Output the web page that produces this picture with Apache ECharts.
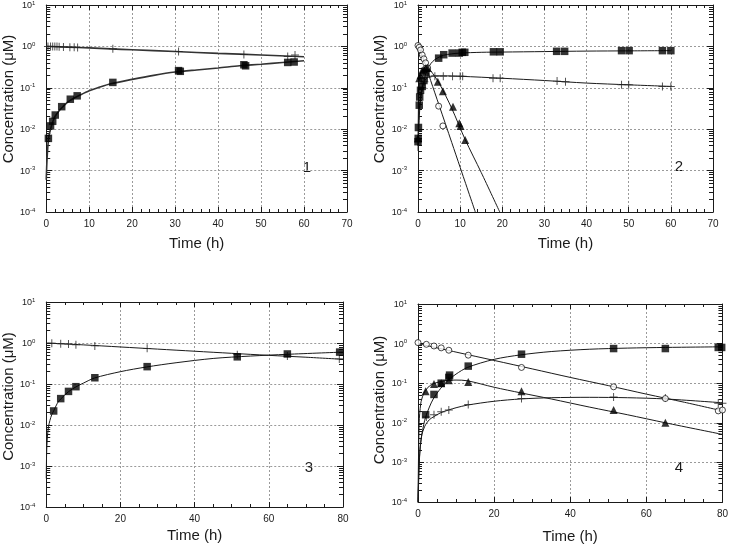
<!DOCTYPE html>
<html><head><meta charset="utf-8">
<script src="https://cdn.jsdelivr.net/npm/echarts@6/dist/echarts.min.js"></script>
<style>html,body{margin:0;padding:0;background:#fff}#c{width:731px;height:548px}</style>
</head><body><div id="c"></div>
<script>
// ---------------- Panel 1 ----------------
const p1SquareT = [0.5, 1, 1.5, 2.1, 3.6, 5.6, 7.2, 15.5, 30.8, 31.2, 46, 46.4, 56.2, 57.7];
const p1Square  = [0.006, 0.012, 0.0155, 0.022, 0.035, 0.053, 0.064, 0.135, 0.26, 0.25, 0.36, 0.34, 0.41, 0.42];
const p1CrossT  = [0.4, 1, 1.5, 2, 2.5, 3, 4, 5.5, 6.5, 7.3, 15.5, 30.8, 46, 56.2, 57.9];
const p1Cross   = [1.0, 1.0, 1.0, 0.99, 0.99, 0.98, 0.97, 0.96, 0.95, 0.94, 0.88, 0.75, 0.64, 0.57, 0.62];
const p1FitSqT  = [0, 0.1, 0.3, 0.6, 1, 1.5, 2, 3, 4, 5, 6, 8, 10, 12, 15, 20, 25, 30, 35, 40, 45, 50, 55, 60];
const p1FitSq   = [0.0006, 0.0012, 0.003, 0.0065, 0.010, 0.015, 0.02, 0.028, 0.036, 0.045, 0.053, 0.068, 0.085, 0.1, 0.125, 0.16, 0.2, 0.24, 0.27, 0.3, 0.34, 0.37, 0.41, 0.45];
const p1FitCrT  = [0, 5, 10, 15, 20, 30, 40, 50, 60];
const p1FitCr   = [1.0, 0.96, 0.92, 0.87, 0.83, 0.75, 0.68, 0.62, 0.56];

// ---------------- Panel 2 ----------------
const p2SquareT = [0, 0.05, 0.1, 0.3, 0.4, 0.6, 1.0, 1.4, 1.9, 4.9, 6.1, 8.1, 9.8, 10.5, 11.1, 17.9, 19.5, 32.9, 34.8, 48.3, 50.1, 58, 60];
const p2Square  = [0.005, 0.006, 0.011, 0.038, 0.06, 0.087, 0.108, 0.15, 0.23, 0.52, 0.63, 0.69, 0.69, 0.72, 0.72, 0.74, 0.74, 0.76, 0.76, 0.79, 0.79, 0.79, 0.79];
const p2CircleT = [0, 0.3, 0.6, 1.0, 1.4, 1.8, 2.3, 4.9, 5.9];
const p2Circle  = [1.05, 0.95, 0.82, 0.62, 0.5, 0.4, 0.3, 0.036, 0.012];
const p2TriT    = [0, 0.3, 0.6, 1.0, 1.4, 1.9, 2.3, 4.7, 5.9, 8.3, 9.8, 10.1, 11.2];
const p2Tri     = [0.006, 0.17, 0.2, 0.26, 0.28, 0.3, 0.3, 0.14, 0.083, 0.035, 0.014, 0.012, 0.0055];
const p2CrossT  = [1.0, 1.5, 2.2, 4, 6, 8.2, 10, 10.6, 17.8, 19.5, 33, 35, 48.3, 50, 58, 60];
const p2Cross   = [0.1, 0.14, 0.18, 0.19, 0.19, 0.19, 0.19, 0.19, 0.17, 0.17, 0.145, 0.14, 0.118, 0.118, 0.108, 0.108];
const p2FitSqT  = [0, 0.2, 0.5, 1, 1.5, 2, 3, 4, 5, 6, 8, 10, 15, 20, 30, 40, 50, 60];
const p2FitSq   = [0.004, 0.012, 0.04, 0.1, 0.16, 0.24, 0.38, 0.48, 0.55, 0.61, 0.66, 0.69, 0.72, 0.73, 0.75, 0.77, 0.78, 0.79];
const p2FitCiT  = [0, 0.5, 1, 3, 5, 8, 10, 13.6];
const p2FitCi   = [1.0, 0.78, 0.6, 0.15, 0.038, 0.0048, 0.0012, 0.0001];
const p2FitTrT  = [0, 0.2, 0.5, 1, 1.5, 2, 2.5, 3, 5, 8, 11.2, 15, 19.4];
const p2FitTr   = [0.004, 0.1, 0.2, 0.27, 0.3, 0.31, 0.3, 0.26, 0.13, 0.032, 0.0056, 0.0009, 0.0001];
const p2FitCrT  = [0, 0.3, 0.7, 1, 1.5, 2, 3, 4, 6, 10, 20, 30, 40, 50, 60];
const p2FitCr   = [0.003, 0.03, 0.07, 0.1, 0.14, 0.17, 0.19, 0.195, 0.195, 0.19, 0.17, 0.15, 0.13, 0.118, 0.108];

// ---------------- Panel 3 ----------------
const p3SquareT = [2.0, 3.9, 6.0, 8.0, 13.1, 27.2, 51.5, 65, 79.1];
const p3Square  = [0.022, 0.044, 0.066, 0.086, 0.142, 0.265, 0.46, 0.54, 0.6];
const p3CrossT  = [1.5, 3.9, 6, 8, 13.1, 27.2, 51.5, 65, 79];
const p3Cross   = [0.99, 0.96, 0.94, 0.91, 0.85, 0.74, 0.52, 0.48, 0.41];
const p3FitSqT  = [0, 0.1, 0.3, 0.6, 1, 1.5, 2, 3, 4, 6, 8, 10, 13, 20, 27, 35, 45, 55, 65, 80];
const p3FitSq   = [0.0005, 0.002, 0.005, 0.009, 0.013, 0.018, 0.022, 0.034, 0.044, 0.065, 0.085, 0.105, 0.14, 0.2, 0.26, 0.33, 0.42, 0.48, 0.53, 0.6];
const p3FitCrT  = [0, 10, 20, 30, 40, 50, 60, 70, 80];
const p3FitCr   = [1.0, 0.9, 0.8, 0.71, 0.63, 0.56, 0.5, 0.45, 0.4];

// ---------------- Panel 4 ----------------
const p4CircleT = [0, 2.2, 4.2, 6.1, 8.1, 13.2, 27.2, 51.4, 65, 78.9, 80];
const p4Circle  = [1.06, 0.96, 0.87, 0.78, 0.68, 0.51, 0.25, 0.081, 0.041, 0.020, 0.021];
const p4SquareT = [2.0, 4.2, 6.1, 8.1, 8.3, 13.2, 27.2, 51.4, 65, 78.9, 79.8];
const p4Square  = [0.016, 0.052, 0.1, 0.14, 0.16, 0.27, 0.54, 0.75, 0.75, 0.8, 0.8];
const p4TriT    = [2.0, 4.2, 6.1, 8.1, 13.2, 27.2, 51.4, 65];
const p4Tri     = [0.063, 0.095, 0.1, 0.118, 0.107, 0.063, 0.021, 0.01];
const p4CrossT  = [2.2, 4.2, 6.1, 8.1, 13.2, 27.2, 51.4, 65, 78.9, 80];
const p4Cross   = [0.014, 0.016, 0.019, 0.021, 0.029, 0.041, 0.045, 0.042, 0.031, 0.031];
const p4FitCiT  = [0, 10, 20, 30, 40, 50, 60, 70, 80];
const p4FitCi   = [1.0, 0.61, 0.376, 0.23, 0.14, 0.087, 0.053, 0.033, 0.02];
const p4FitSqT  = [0, 0.5, 1, 1.5, 2, 3, 4, 6, 8, 10, 13, 20, 27, 35, 45, 55, 65, 80];
const p4FitSq   = [0.0001, 0.002, 0.005, 0.009, 0.014, 0.025, 0.04, 0.075, 0.12, 0.17, 0.25, 0.4, 0.52, 0.63, 0.72, 0.77, 0.8, 0.83];
const p4FitTrT  = [0, 0.3, 0.7, 1, 1.5, 2, 3, 4, 6, 8, 10, 13, 20, 27, 35, 45, 55, 65, 80];
const p4FitTr   = [0.0001, 0.01, 0.03, 0.04, 0.055, 0.066, 0.085, 0.097, 0.11, 0.118, 0.12, 0.115, 0.079, 0.057, 0.04, 0.025, 0.016, 0.01, 0.0051];
const p4FitCrT  = [0, 0.3, 0.7, 1, 1.5, 2, 3, 4, 6, 8, 10, 13, 20, 27, 35, 45, 55, 65, 80];
const p4FitCr   = [0.0001, 0.001, 0.003, 0.005, 0.007, 0.009, 0.012, 0.014, 0.018, 0.021, 0.024, 0.028, 0.035, 0.04, 0.043, 0.044, 0.043, 0.04, 0.032];

// Axis settings
const xMaxes = [70, 70, 80, 80];
const xIntervals = [10, 10, 20, 20];
const xMinorSplits = [5, 5, 4, 4];
const panelLabels = ['1', '2', '3', '4'];
const xTitle = 'Time (h)';
const yTitle = 'Concentration (\u03bcM)';

// ---------------- Build ----------------
const FONT = 'Liberation Sans, Arial, Helvetica, sans-serif';
const INK = '#1a1a1a';
const pairs = (t, v) => t.map((x, i) => [x, v[i]]);

// minor log tick positions (2..9 × 10^e), as exponents for a helper linear axis spanning -4..1
const minorExp = [];
for (let e = -4; e <= 0; e++) for (let m = 2; m <= 9; m++) minorExp.push(e + Math.log10(m));

const grids = [
  {left: 45, top: 5, width: 302, height: 207},
  {left: 418, top: 5, width: 295, height: 207},
  {left: 44, top: 302, width: 299, height: 205},
  {left: 418, top: 304, width: 308, height: 198}
];
const xNameGaps = [24, 24, 21, 27];
const yNameGaps = [27, 26, 28, 27];
const yNamePad = [19, 19, 16, 6];

const xAxes = [], yAxes = [];
const lineAx = {show: true, onZero: false, lineStyle: {color: INK, width: 1}};
grids.forEach((g, i) => {
  const common = {type: 'value', gridIndex: i, min: 0, max: xMaxes[i], interval: xIntervals[i],
    axisLine: lineAx,
    axisTick: {show: true, inside: true, length: 5, lineStyle: {color: INK}},
    minorTick: {show: true, splitNumber: xMinorSplits[i], length: 3, lineStyle: {color: INK}}};
  xAxes.push(Object.assign({}, common, {position: 'bottom',
    axisLabel: {fontSize: 10, color: INK, margin: 7, fontFamily: FONT},
    splitLine: {show: true, lineStyle: {color: '#9a9a9a', type: [2, 2], width: 1}},
    name: xTitle, nameLocation: 'middle', nameGap: xNameGaps[i],
    nameTextStyle: {fontSize: 15, color: INK, fontFamily: FONT}}));
  xAxes.push(Object.assign({}, common, {position: 'top', axisLabel: {show: false}, splitLine: {show: false}}));

  const ylog = {type: 'log', logBase: 10, gridIndex: i, min: 0.0001, max: 10};
  const yexp = {type: 'value', gridIndex: i, min: -4, max: 1, axisLine: {show: false, onZero: false},
    axisLabel: {show: false}, splitLine: {show: false}};
  yAxes.push(Object.assign({}, ylog, {position: 'left',
    axisLine: lineAx,
    axisTick: {show: true, inside: true, length: 6, lineStyle: {color: INK}},
    axisLabel: {margin: 11, color: INK, fontFamily: FONT,
      formatter: v => { const e = Math.round(Math.log10(v)); return '{b|10}{s|' + (e < 0 ? '-' : '') + Math.abs(e) + '}'; },
      rich: {b: {fontSize: 9, fontFamily: FONT, color: INK, verticalAlign: 'bottom', lineHeight: 10},
             s: {fontSize: 6, fontFamily: FONT, color: INK, verticalAlign: 'top', lineHeight: 6, padding: [0, 0, 4, 0]}}},
    splitLine: {show: true, lineStyle: {color: '#9a9a9a', type: [2, 2], width: 1}},
    name: yTitle, nameLocation: 'middle', nameGap: yNameGaps[i],
    nameTextStyle: {fontSize: 15, color: INK, fontFamily: FONT, padding: [0, 0, 0, yNamePad[i]]}}));
  yAxes.push(Object.assign({}, yexp, {position: 'left',
    axisTick: {show: true, inside: true, length: 4, customValues: minorExp, lineStyle: {color: INK}}}));
  yAxes.push(Object.assign({}, ylog, {position: 'right', axisLine: lineAx,
    axisTick: {show: true, inside: true, length: 6, lineStyle: {color: INK}},
    axisLabel: {show: false}, splitLine: {show: false}}));
  yAxes.push(Object.assign({}, yexp, {position: 'right',
    axisTick: {show: true, inside: true, length: 4, customValues: minorExp, lineStyle: {color: INK}}}));
});

const CROSS = 'path://M4.4,0H5.6V4.4H10V5.6H5.6V10H4.4V5.6H0V4.4H4.4Z';
const series = [];
function fit(p, t, v, w, col) {
  series.push({type: 'line', xAxisIndex: p * 2, yAxisIndex: p * 4, data: pairs(t, v), showSymbol: false,
    smooth: 0.3, lineStyle: {color: col || INK, width: w || 1}, silent: true, z: 2, clip: true});
}
function pts(p, t, v, kind) {
  const s = {type: 'scatter', xAxisIndex: p * 2, yAxisIndex: p * 4, data: pairs(t, v), z: 3, silent: true};
  if (kind === 'sq') Object.assign(s, {symbol: 'rect', symbolSize: 7.5, itemStyle: {color: '#000'}});
  if (kind === 'tri') Object.assign(s, {symbol: 'triangle', symbolSize: 8, itemStyle: {color: '#000'}});
  if (kind === 'ci') Object.assign(s, {symbol: 'circle', symbolSize: 6, itemStyle: {color: '#fff', borderColor: '#000', borderWidth: 0.9}});
  if (kind === 'cr') Object.assign(s, {symbol: CROSS, symbolSize: 8, itemStyle: {color: '#222'}});
  series.push(s);
}
fit(0, p1FitSqT, p1FitSq, 1.6, '#333'); fit(0, p1FitCrT, p1FitCr, 1.6, '#333');
pts(0, p1CrossT, p1Cross, 'cr'); pts(0, p1SquareT, p1Square, 'sq');

fit(1, p2FitSqT, p2FitSq); fit(1, p2FitCiT, p2FitCi); fit(1, p2FitTrT, p2FitTr); fit(1, p2FitCrT, p2FitCr);
pts(1, p2CrossT, p2Cross, 'cr'); pts(1, p2CircleT, p2Circle, 'ci'); pts(1, p2TriT, p2Tri, 'tri'); pts(1, p2SquareT, p2Square, 'sq');

fit(2, p3FitSqT, p3FitSq); fit(2, p3FitCrT, p3FitCr);
pts(2, p3CrossT, p3Cross, 'cr'); pts(2, p3SquareT, p3Square, 'sq');

fit(3, p4FitCiT, p4FitCi); fit(3, p4FitSqT, p4FitSq); fit(3, p4FitTrT, p4FitTr); fit(3, p4FitCrT, p4FitCr);
pts(3, p4CrossT, p4Cross, 'cr'); pts(3, p4CircleT, p4Circle, 'ci'); pts(3, p4TriT, p4Tri, 'tri'); pts(3, p4SquareT, p4Square, 'sq');

const labelPos = [[307, 168], [679, 167], [309, 468], [679, 468]];
const graphic = panelLabels.map((t, i) => ({type: 'text', x: labelPos[i][0], y: labelPos[i][1],
  style: {text: t, fontSize: 15, fontFamily: FONT, fill: INK, align: 'center', verticalAlign: 'middle'}}));

const chart = echarts.init(document.getElementById('c'), null, {renderer: 'canvas'});
chart.setOption({animation: false, backgroundColor: '#fff', grid: grids.map(g => Object.assign({containLabel: false}, g)),
  xAxis: xAxes, yAxis: yAxes, series: series, graphic: graphic});
</script></body></html>
